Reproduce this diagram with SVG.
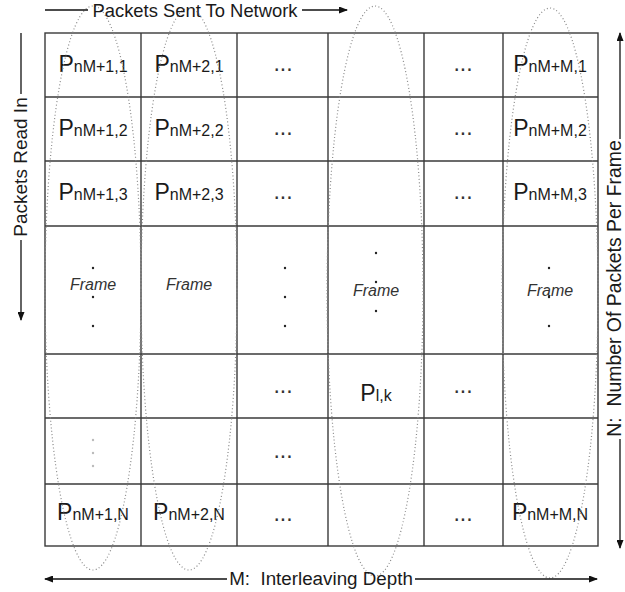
<svg xmlns="http://www.w3.org/2000/svg" width="625" height="592" viewBox="0 0 625 592">
<style>
  .bg{fill:#ffffff}
  .grid{stroke:#3a3a3a;stroke-width:1.4;fill:none}
  .p{font-family:"Liberation Sans",Arial,sans-serif;font-size:23px;fill:#1a1a1a}
  .s{font-size:16px}
  .dots{font-family:"Liberation Sans",Arial,sans-serif;font-size:23px;fill:#333;text-anchor:middle}
  .fr{font-family:"Liberation Sans",Arial,sans-serif;font-size:16px;font-style:italic;fill:#333;text-anchor:middle}
  .lbl{font-family:"Liberation Sans",Arial,sans-serif;fill:#1a1a1a;text-anchor:middle}
  .ell{fill:none;stroke:#8a8a8a;stroke-width:1.2;stroke-dasharray:1 2.4}
  .ln{stroke:#111;stroke-width:1.3;fill:none}
  .dot{fill:#222}
  .fdot{fill:#bbb}
</style>
<defs>
  <marker id="ah" markerUnits="userSpaceOnUse" markerWidth="9" markerHeight="7" refX="8" refY="3.5" orient="auto">
    <path d="M0,0 L9,3.5 L0,7 z" fill="#111"/>
  </marker>
  <marker id="as" markerUnits="userSpaceOnUse" markerWidth="9" markerHeight="7" refX="1" refY="3.5" orient="auto">
    <path d="M9,0 L0,3.5 L9,7 z" fill="#111"/>
  </marker>
</defs>
<rect class="bg" x="0" y="0" width="625" height="592"/>

<g id="grid">
  <rect class="grid" x="45" y="33" width="553" height="513"/>
  <line class="grid" x1="141" y1="33" x2="141" y2="546"/>
  <line class="grid" x1="237" y1="33" x2="237" y2="546"/>
  <line class="grid" x1="328" y1="33" x2="328" y2="546"/>
  <line class="grid" x1="424" y1="33" x2="424" y2="546"/>
  <line class="grid" x1="503" y1="33" x2="503" y2="546"/>
  <line class="grid" x1="45" y1="97" x2="598" y2="97"/>
  <line class="grid" x1="45" y1="161" x2="598" y2="161"/>
  <line class="grid" x1="45" y1="226" x2="598" y2="226"/>
  <line class="grid" x1="45" y1="354" x2="598" y2="354"/>
  <line class="grid" x1="45" y1="418" x2="598" y2="418"/>
  <line class="grid" x1="45" y1="484" x2="598" y2="484"/>
</g>

<g id="row1">
  <text class="p" x="93" y="72" text-anchor="middle">P<tspan class="s">nM+1,1</tspan></text>
  <text class="p" x="189" y="72" text-anchor="middle">P<tspan class="s">nM+2,1</tspan></text>
  <text class="dots" x="283" y="71">...</text>
  <text class="dots" x="463" y="71">...</text>
  <text class="p" x="550" y="72" text-anchor="middle">P<tspan class="s">nM+M,1</tspan></text>
</g>
<g id="row2">
  <text class="p" x="93" y="136" text-anchor="middle">P<tspan class="s">nM+1,2</tspan></text>
  <text class="p" x="189" y="136" text-anchor="middle">P<tspan class="s">nM+2,2</tspan></text>
  <text class="dots" x="283" y="135">...</text>
  <text class="dots" x="463" y="135">...</text>
  <text class="p" x="550" y="136" text-anchor="middle">P<tspan class="s">nM+M,2</tspan></text>
</g>
<g id="row3">
  <text class="p" x="93" y="200" text-anchor="middle">P<tspan class="s">nM+1,3</tspan></text>
  <text class="p" x="189" y="200" text-anchor="middle">P<tspan class="s">nM+2,3</tspan></text>
  <text class="dots" x="283" y="199">...</text>
  <text class="dots" x="463" y="199">...</text>
  <text class="p" x="550" y="200" text-anchor="middle">P<tspan class="s">nM+M,3</tspan></text>
</g>
<g id="row-frame">
  <circle class="dot" cx="93" cy="268" r="1.2"/>
  <text class="fr" x="93" y="290">Frame</text>
  <circle class="dot" cx="93" cy="297" r="1.2"/>
  <circle class="dot" cx="93" cy="326" r="1.2"/>
  <text class="fr" x="189" y="290">Frame</text>
  <circle class="dot" cx="285" cy="268" r="1.2"/>
  <circle class="dot" cx="285" cy="297" r="1.2"/>
  <circle class="dot" cx="285" cy="326" r="1.2"/>
  <circle class="dot" cx="376" cy="253" r="1.2"/>
  <circle class="dot" cx="376" cy="282" r="1.2"/>
  <text class="fr" x="376" y="296">Frame</text>
  <circle class="dot" cx="376" cy="311" r="1.2"/>
  <circle class="dot" cx="549" cy="268" r="1.2"/>
  <text class="fr" x="550" y="296">Frame</text>
  <circle class="dot" cx="549" cy="297" r="1.2"/>
  <circle class="dot" cx="549" cy="326" r="1.2"/>
</g>
<g id="row5">
  <text class="dots" x="283" y="393">...</text>
  <text class="p" x="376" y="401" text-anchor="middle">P<tspan class="s">l,k</tspan></text>
  <text class="dots" x="463" y="393">...</text>
</g>
<g id="row6">
  <circle class="fdot" cx="93" cy="440" r="1.2"/>
  <circle class="fdot" cx="93" cy="453" r="1.2"/>
  <circle class="fdot" cx="93" cy="466" r="1.2"/>
  <text class="dots" x="283" y="458">...</text>
</g>
<g id="row7">
  <text class="p" x="93" y="520" text-anchor="middle">P<tspan class="s">nM+1,N</tspan></text>
  <text class="p" x="189" y="520" text-anchor="middle">P<tspan class="s">nM+2,N</tspan></text>
  <text class="dots" x="283" y="521">...</text>
  <text class="dots" x="463" y="521">...</text>
  <text class="p" x="550" y="520" text-anchor="middle">P<tspan class="s">nM+M,N</tspan></text>
</g>

<g id="frames">
  <ellipse class="ell" cx="93" cy="288" rx="48" ry="282"/>
  <ellipse class="ell" cx="189" cy="289" rx="48" ry="281"/>
  <ellipse class="ell" cx="375" cy="291" rx="48" ry="285"/>
  <ellipse class="ell" cx="550" cy="293" rx="48" ry="285"/>
</g>

<g id="labels">
  <text class="lbl" x="195" y="17" font-size="18.4">Packets Sent To Network</text>
  <text class="lbl" font-size="19" transform="translate(27,167) rotate(-90)">Packets Read In</text>
  <text class="lbl" font-size="19.4" xml:space="preserve" transform="translate(621,288.5) rotate(-90)">N:  Number Of Packets Per Frame</text>
  <text class="lbl" x="321" y="585" font-size="18.8" xml:space="preserve">M:  Interleaving Depth</text>
</g>

<g id="connectors">
  <line class="ln" x1="45" y1="10" x2="88" y2="10"/>
  <line class="ln" x1="302" y1="10" x2="347" y2="10" marker-end="url(#ah)"/>
  <line class="ln" x1="21" y1="33" x2="21" y2="94"/>
  <line class="ln" x1="21" y1="240" x2="21" y2="320" marker-end="url(#ah)"/>
  <line class="ln" x1="620" y1="33" x2="620" y2="139" marker-start="url(#as)"/>
  <line class="ln" x1="620" y1="439" x2="620" y2="548" marker-end="url(#ah)"/>
  <line class="ln" x1="45" y1="579" x2="227" y2="579" marker-start="url(#as)"/>
  <line class="ln" x1="415" y1="579" x2="597" y2="579" marker-end="url(#ah)"/>
</g>
</svg>
